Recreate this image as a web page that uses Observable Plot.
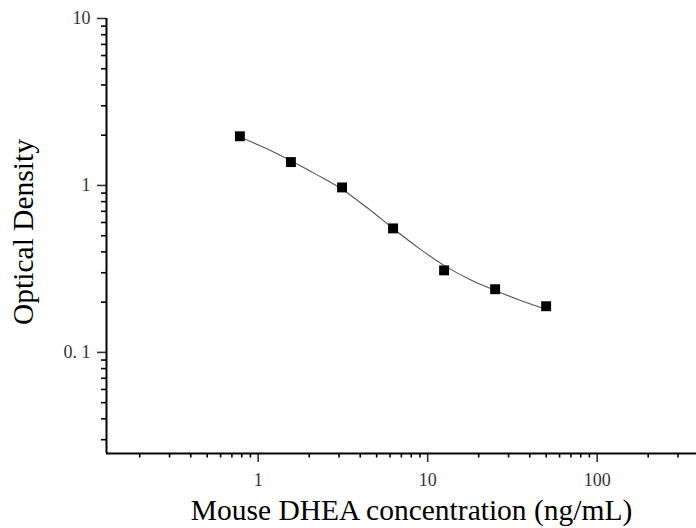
<!DOCTYPE html>
<html>
<head>
<meta charset="utf-8">
<script src="https://cdn.jsdelivr.net/npm/d3@7"></script>
<script src="https://cdn.jsdelivr.net/npm/@observablehq/plot@0.6"></script>
<style>
  html, body { margin: 0; padding: 0; background: #fff; }
  #chart svg { display: block; }
</style>
</head>
<body>
<div id="chart"></div>
<script>
// Standards (ng/mL) and measured optical density
const conc = [0.78, 1.56, 3.125, 6.25, 12.5, 25, 50];
const od = [1.97, 1.38, 0.973, 0.553, 0.31, 0.239, 0.189];

// Fitted curve
const curveConc = [0.78, 1.1, 1.56, 2.2, 3.125, 4.4, 6.25, 8.9, 12.5, 18, 25, 35, 50];
const curveOD = [1.95, 1.676, 1.407, 1.165, 0.95, 0.735, 0.553, 0.42, 0.332, 0.271, 0.235, 0.2055, 0.1814];

// Axes
const xDomain = [0.1274, 385.5];
const yDomain = [0.0248, 10];
const xMajor = [1, 10, 100];
const xMajorLabels = ["1", "10", "100"];
const xMinor = [0.2, 0.3, 0.4, 0.5, 0.6, 0.7, 0.8, 0.9, 2, 3, 4, 5, 6, 7, 8, 9, 20, 30, 40, 50, 60, 70, 80, 90, 200, 300];
const yMajor = [0.1, 1, 10];
const yMajorLabels = ["0. 1", "1", "10"];
const yMinor = [0.03, 0.04, 0.05, 0.06, 0.07, 0.08, 0.09, 0.2, 0.3, 0.4, 0.5, 0.6, 0.7, 0.8, 0.9, 2, 3, 4, 5, 6, 7, 8, 9];
const xTitle = "Mouse DHEA concentration (ng/mL)";
const yTitle = "Optical Density";

const points = conc.map((c, i) => ({c, od: od[i]}));
const curve = curveConc.map((c, i) => ({c, od: curveOD[i]}));

const serif = "'Liberation Serif', 'Times New Roman', serif";

const chart = Plot.plot({
  width: 696,
  height: 528,
  marginLeft: 106,
  marginRight: 0,
  marginTop: 18,
  marginBottom: 75,
  style: {fontFamily: serif, background: "#fff"},
  x: {type: "log", domain: xDomain},
  y: {type: "log", domain: yDomain},
  marks: [
    // minor ticks
    Plot.axisX({ticks: xMinor, tickSize: 4.5, strokeWidth: 1.6, tickFormat: () => "", label: null}),
    Plot.axisY({ticks: yMinor, tickSize: 5, strokeWidth: 1.6, tickFormat: () => "", label: null}),
    // major ticks with labels
    Plot.axisX({ticks: xMajor, tickSize: 9, strokeWidth: 1.6, tickPadding: 11, fontSize: 18, color: "#333",
      tickFormat: d => xMajorLabels[xMajor.indexOf(d)], label: null}),
    Plot.axisY({ticks: yMajor, tickSize: 9, strokeWidth: 1.6, tickPadding: 7, fontSize: 18, color: "#333",
      tickFormat: d => yMajorLabels[yMajor.indexOf(d)], label: null}),
    // axis lines
    Plot.ruleX([xDomain[0]], {stroke: "#000", strokeWidth: 2}),
    Plot.ruleY([yDomain[0]], {stroke: "#000", strokeWidth: 2}),
    // fitted curve
    Plot.line(curve, {x: "c", y: "od", curve: "monotone-x", stroke: "#555", strokeWidth: 1.1}),
    // standards
    Plot.dot(points, {x: "c", y: "od", symbol: "square", r: 5.6, fill: "#000", stroke: "none"}),
    // titles
    Plot.text([xTitle], {frameAnchor: "bottom", text: d => d, dx: 10, dy: 57, lineAnchor: "middle",
      textAnchor: "middle", fontSize: 29.5, fill: "#000", fontFamily: serif}),
    Plot.text([yTitle], {frameAnchor: "left", text: d => d, rotate: -90, dx: -83, dy: -4, lineAnchor: "middle",
      textAnchor: "middle", fontSize: 29.5, fill: "#000", fontFamily: serif})
  ]
});
document.getElementById("chart").appendChild(chart);
</script>
</body>
</html>
